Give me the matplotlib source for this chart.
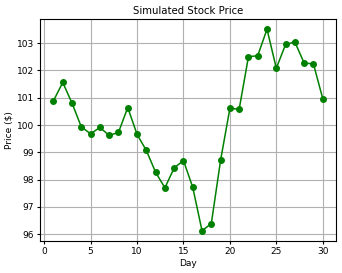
import matplotlib
matplotlib.use("Agg")
import matplotlib.pyplot as plt

days = list(range(1, 31))
prices = [100.89, 101.56, 100.80, 99.93, 99.68, 99.91, 99.62, 99.73, 100.64, 99.66,
          99.07, 98.27, 97.70, 98.43, 98.70, 97.72, 96.13, 96.39, 98.71, 100.61,
          100.58, 102.50, 102.54, 103.51, 102.08, 102.95, 103.04, 102.27, 102.24, 100.97]

fig, ax = plt.subplots(figsize=(3.42, 2.73), dpi=100)
ax.plot(days, prices, marker='o', color='green', linewidth=1.1, markersize=4)
ax.set_title("Simulated Stock Price", fontsize=7.3, pad=4)
ax.set_xlabel("Day", fontsize=6.5, labelpad=2)
ax.set_ylabel("Price ($)", fontsize=6.5, labelpad=2)
ax.tick_params(labelsize=6.5, length=2.5, pad=2)
ax.grid(True)
fig.subplots_adjust(left=0.117, right=0.983, top=0.93, bottom=0.118)
fig.savefig("out.png", dpi=100)
